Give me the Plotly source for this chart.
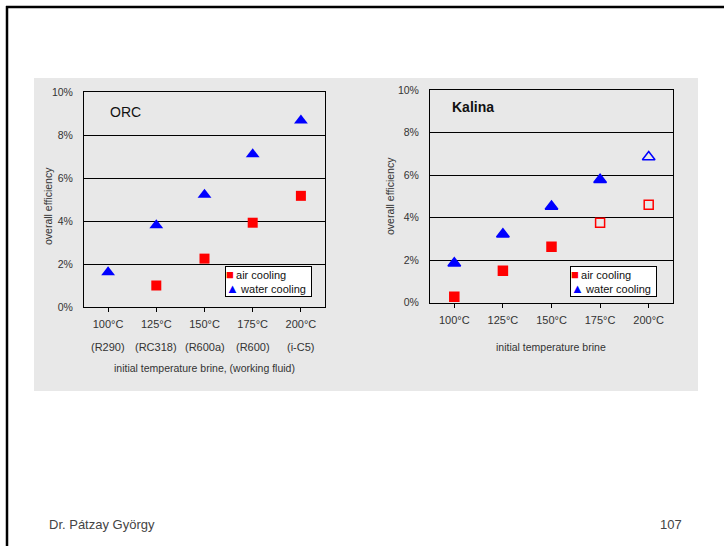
import plotly.graph_objects as go

# Overall efficiency (%) versus initial brine temperature
temps = ["100°C", "125°C", "150°C", "175°C", "200°C"]
orc_fluids = ["(R290)", "(RC318)", "(R600a)", "(R600)", "(i-C5)"]

orc_air_temps = ["125°C", "150°C", "175°C", "200°C"]
orc_air = [1.0, 2.25, 3.92, 5.17]
orc_water = [1.62, 3.8, 5.22, 7.1, 8.68]

kalina_air = [0.28, 1.5, 2.63, 3.76, 4.6]
kalina_water = [1.86, 3.22, 4.52, 5.78, 6.85]
# filled = computed, open = extrapolated
kalina_air_symbols = ["square", "square", "square", "square-open", "square-open"]
kalina_water_symbols = ["triangle-up"] * 4 + ["triangle-up-open"]

y_ticks = [0, 2, 4, 6, 8, 10]
y_tick_labels = ["0%", "2%", "4%", "6%", "8%", "10%"]

W, H = 724, 546
RED = "#ff0000"
BLUE = "#0000ff"
TXT = "#333333"
FONT = "Liberation Sans, Arial, sans-serif"


def fx(x):
    return x / W


def fy(y):
    return 1 - y / H


fig = go.Figure()

fig.add_trace(go.Scatter(
    x=orc_air_temps, y=orc_air, mode="markers", name="air cooling",
    marker=dict(symbol="square", size=10, color=RED, line=dict(width=0)),
    xaxis="x", yaxis="y", showlegend=False, cliponaxis=False))
fig.add_trace(go.Scatter(
    x=temps, y=orc_water, mode="markers", name="water cooling",
    marker=dict(symbol="triangle-up", size=12, color=BLUE, line=dict(width=0)),
    xaxis="x", yaxis="y", showlegend=False, cliponaxis=False))

fig.add_trace(go.Scatter(
    x=temps, y=kalina_air, mode="markers", name="air cooling",
    marker=dict(symbol=kalina_air_symbols, size=9, color=RED,
                line=dict(width=1.5, color=RED)),
    xaxis="x2", yaxis="y2", showlegend=False, cliponaxis=False))
fig.add_trace(go.Scatter(
    x=temps, y=kalina_water, mode="markers", name="water cooling",
    marker=dict(symbol=kalina_water_symbols, size=11, color=BLUE,
                line=dict(width=1.5, color=BLUE)),
    xaxis="x2", yaxis="y2", showlegend=False, cliponaxis=False))

xcommon = dict(
    type="category", categoryorder="array", categoryarray=temps,
    range=[-0.5, 4.5], showgrid=False, showline=True, linecolor="black",
    linewidth=1, mirror=True, ticks="outside", ticklen=4, tickcolor="black",
    tickfont=dict(family=FONT, size=11, color=TXT), ticklabelstandoff=3,
    zeroline=False, automargin=False)
ycommon = dict(
    range=[0, 10], tickmode="array", tickvals=y_ticks, ticktext=y_tick_labels,
    showgrid=True, gridcolor="black", gridwidth=1, showline=True,
    linecolor="black", linewidth=1, mirror=True, ticks="",
    ticklabelstandoff=8, tickfont=dict(family=FONT, size=10.5, color=TXT),
    zeroline=False, automargin=False)

fig.update_layout(
    width=W, height=H,
    margin=dict(l=0, r=0, t=0, b=0, pad=0, autoexpand=False),
    paper_bgcolor="white", plot_bgcolor="white",
    xaxis=dict(domain=[fx(84), fx(325)], anchor="y", **xcommon),
    yaxis=dict(domain=[fy(307), fy(92)], anchor="x", **ycommon),
    xaxis2=dict(domain=[fx(430), fx(673)], anchor="y2", **xcommon),
    yaxis2=dict(domain=[fy(302.7), fy(90)], anchor="x2", **ycommon),
)

shapes = [
    # grey panel behind both charts
    dict(type="rect", xref="paper", yref="paper", x0=fx(34), x1=fx(698),
         y0=fy(391), y1=fy(78), fillcolor="#e8e8e8", line=dict(width=0),
         layer="below"),
    # slide frame
    dict(type="line", xref="paper", yref="paper", x0=fx(6), x1=1.0,
         y0=fy(7), y1=fy(7), line=dict(color="black", width=2.5)),
    dict(type="line", xref="paper", yref="paper", x0=fx(7), x1=fx(7),
         y0=fy(6), y1=0.0, line=dict(color="black", width=2.5)),
]
fig.update_layout(shapes=shapes)

ann = []
# chart titles
ann.append(dict(text="ORC", xref="paper", yref="paper", x=fx(108), y=fy(112),
                xanchor="left", yanchor="middle", showarrow=False,
                font=dict(family=FONT, size=14, color="#111")))
ann.append(dict(text="<b>Kalina</b>", xref="paper", yref="paper", x=fx(450),
                y=fy(107), xanchor="left", yanchor="middle", showarrow=False,
                font=dict(family=FONT, size=14, color="#111")))
# working fluid row under the ORC temperature labels
for t, f in zip(temps, orc_fluids):
    ann.append(dict(text=f, xref="x", yref="paper", x=t, y=fy(346.7),
                    xanchor="center", yanchor="middle", showarrow=False,
                    font=dict(family=FONT, size=11, color=TXT)))
# axis titles
ann.append(dict(text="initial temperature brine, (working fluid)", xref="paper",
                yref="paper", x=fx(204.5), y=fy(367.7), xanchor="center",
                yanchor="middle", showarrow=False,
                font=dict(family=FONT, size=10.5, color=TXT)))
ann.append(dict(text="initial temperature brine", xref="paper", yref="paper",
                x=fx(551), y=fy(346.7), xanchor="center", yanchor="middle",
                showarrow=False, font=dict(family=FONT, size=10.5, color=TXT)))
ann.append(dict(text="overall efficiency", xref="paper", yref="paper",
                x=fx(48), y=fy(206), textangle=-90, xanchor="center",
                yanchor="middle", showarrow=False,
                font=dict(family=FONT, size=10.5, color=TXT)))
ann.append(dict(text="overall efficiency", xref="paper", yref="paper",
                x=fx(390), y=fy(196), textangle=-90, xanchor="center",
                yanchor="middle", showarrow=False,
                font=dict(family=FONT, size=10.5, color=TXT)))
# legend boxes
legend_text = ("<span style='color:%s;font-size:13px'>■</span>\u2009air cooling \u2009<br>"
               "<span style='color:%s;font-size:13px'>▲</span>\u2009water cooling \u2009"
               ) % (RED, BLUE)
for x0, y0 in [(224.5, 266), (570, 266)]:
    ann.append(dict(text=legend_text, xref="paper", yref="paper", x=fx(x0),
                    y=fy(y0), xanchor="left", yanchor="top", align="left",
                    showarrow=False, bordercolor="black", borderwidth=1,
                    borderpad=0, bgcolor="white",
                    font=dict(family=FONT, size=11, color="#111")))
# footer
ann.append(dict(text="Dr. Pátzay György", xref="paper", yref="paper",
                x=fx(47), y=fy(524), xanchor="left", yanchor="middle",
                showarrow=False, font=dict(family=FONT, size=13, color="#444")))
ann.append(dict(text="107", xref="paper", yref="paper", x=fx(684), y=fy(524),
                xanchor="right", yanchor="middle", showarrow=False,
                font=dict(family=FONT, size=13, color="#444")))
fig.update_layout(annotations=ann)

fig.write_html("out.html")
